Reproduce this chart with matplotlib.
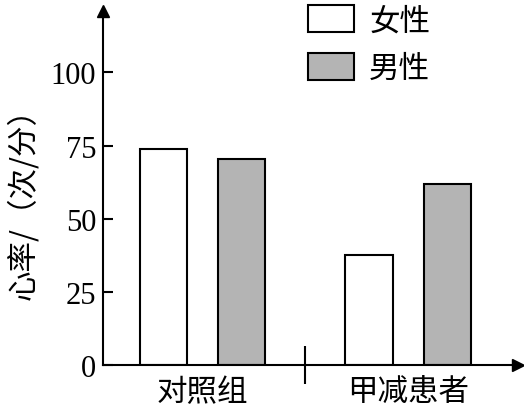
import numpy as np
import matplotlib
matplotlib.use('Agg')
import matplotlib.pyplot as plt
from matplotlib.patches import Patch

plt.rcParams['font.family'] = ['Noto Sans CJK SC', 'DejaVu Sans']

groups = ['对照组', '甲减患者']
female = [74, 37.5]
male = [70.5, 62]
yticks = [0, 25, 50, 75, 100]

gray = '#b4b4b4'
fig = plt.figure(figsize=(5.24, 4.14), dpi=100)
ax = fig.add_axes([103/524, 1-366/414, 415/524, 354/414])

x = np.arange(len(groups))
w = 0.229
ax.bar(x - 0.19, female, w, color='white', edgecolor='black', linewidth=1.5)
ax.bar(x + 0.19, male, w, color=gray, edgecolor='black', linewidth=1.5)

ax.set_xlim(-0.484, 1.535)
ax.set_ylim(0, 121)
for s in ['top', 'right']:
    ax.spines[s].set_visible(False)
for s in ['left', 'bottom']:
    ax.spines[s].set_linewidth(1.5)

# arrowheads
ax.plot(1, 0, marker='>', color='black', markersize=8, transform=ax.transAxes, clip_on=False)
ax.plot(0, 1, marker='^', color='black', markersize=8, transform=ax.transAxes, clip_on=False)

ax.set_yticks(yticks)
ax.set_yticklabels([str(v) for v in yticks], fontfamily='Liberation Serif', fontsize=22)
ax.tick_params(axis='y', direction='in', length=7, width=1.5, pad=5)

ax.set_xticks(x)
ax.set_xticklabels(groups, fontsize=22)
ax.tick_params(axis='x', which='major', length=0, pad=8)
ax.set_xticks([0.5], minor=True)
ax.tick_params(axis='x', which='minor', direction='inout', length=27, width=1.5)

ax.set_ylabel('心率/（次/分）', fontsize=22)
ax.yaxis.set_label_coords(-0.155, 0.48)

handles = [Patch(facecolor='white', edgecolor='black', linewidth=1.5),
           Patch(facecolor=gray, edgecolor='black', linewidth=1.5)]
fig.legend(handles, ['女性', '男性'], loc='upper left', bbox_to_anchor=(305/524, 1 - 3/414),
           frameon=False, fontsize=22, handlelength=1.5, handleheight=1.0,
           handletextpad=0.5, labelspacing=0.55, borderpad=0.1, borderaxespad=0)

fig.savefig('out.png', dpi=100)
